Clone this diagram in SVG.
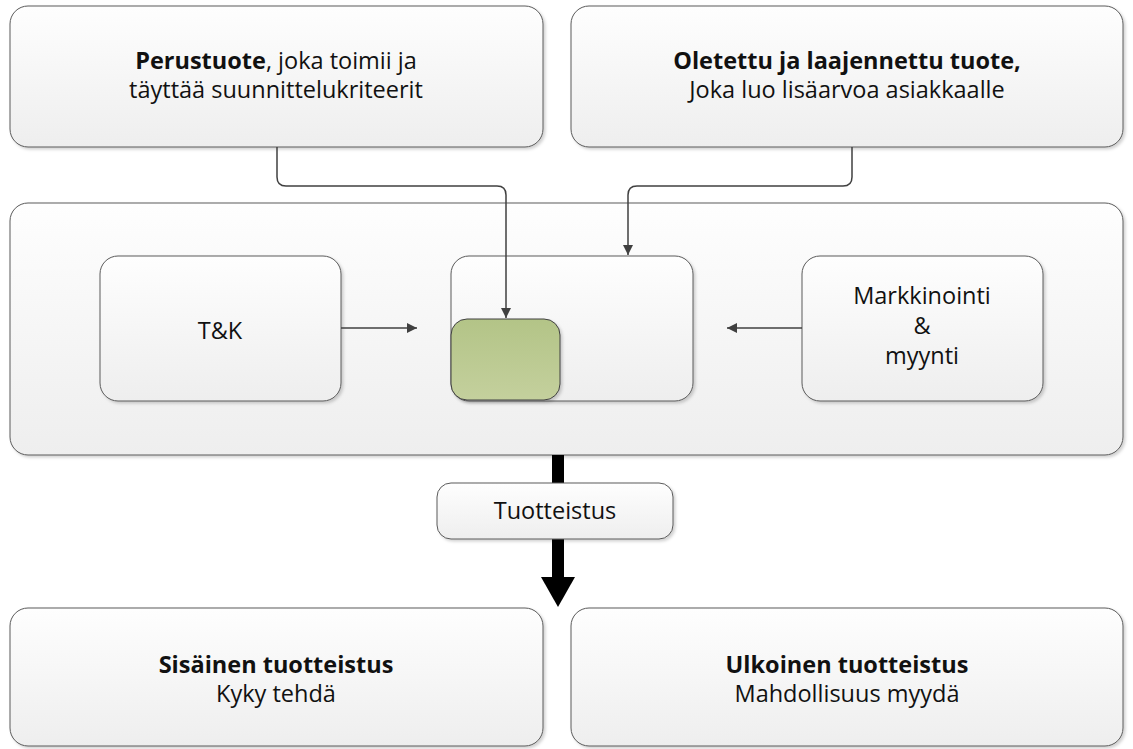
<svg xmlns="http://www.w3.org/2000/svg" width="1133" height="749" viewBox="0 0 1133 749">
  <defs>
    <linearGradient id="boxFill" x1="0" y1="0" x2="0" y2="1">
      <stop offset="0" stop-color="#fefefe"/>
      <stop offset="1" stop-color="#eeeeee"/>
    </linearGradient>
    <linearGradient id="greenFill" x1="0" y1="0" x2="0" y2="1">
      <stop offset="0" stop-color="#b3c487"/>
      <stop offset="1" stop-color="#c4d09d"/>
    </linearGradient>
    <filter id="shadow" x="-5%" y="-5%" width="110%" height="115%">
      <feDropShadow dx="2" dy="2" stdDeviation="1.5" flood-color="#000" flood-opacity="0.18"/>
    </filter>
    <marker id="arrow" viewBox="0 0 10 10" refX="10" refY="5" markerWidth="10" markerHeight="10" markerUnits="userSpaceOnUse" orient="auto">
      <path d="M0,0 L10,5 L0,10 Z" fill="#404040"/>
    </marker>
    <style>
      .box { fill: url(#boxFill); stroke: #5a5a5a; stroke-width: 1; filter: url(#shadow); }
      .green { fill: url(#greenFill); stroke: #404040; stroke-width: 1; filter: url(#shadow); }
      .conn { fill: none; stroke: #404040; stroke-width: 1.5; }
      text { font-family: "Open Sans", "Liberation Sans", sans-serif; font-size: 23.5px; fill: #111; text-anchor: middle; }
      .b { font-weight: bold; }
    </style>
  </defs>

  <!-- top nodes -->
  <g id="perustuote">
    <rect class="box" x="10" y="6" width="533" height="141" rx="18"/>
    <text x="276" y="69"><tspan class="b">Perustuote</tspan>, joka toimii ja</text>
    <text x="276" y="98">täyttää suunnittelukriteerit</text>
  </g>
  <g id="laajennettu">
    <rect class="box" x="571" y="6" width="552" height="141" rx="18"/>
    <text x="847" y="69" class="b">Oletettu ja laajennettu tuote,</text>
    <text x="847" y="98">Joka luo lisäarvoa asiakkaalle</text>
  </g>

  <!-- container -->
  <g id="container">
    <rect class="box" x="10" y="203" width="1113" height="252" rx="18"/>
  </g>
  <g id="tk">
    <rect class="box" x="100" y="256" width="241" height="145" rx="18"/>
    <text x="220" y="338.5">T&amp;K</text>
  </g>
  <g id="tuote">
    <rect class="box" x="451" y="256" width="242" height="145" rx="18"/>
  </g>
  <g id="ydin">
    <rect class="green" x="451" y="319" width="109" height="81" rx="16"/>
  </g>
  <g id="markkinointi">
    <rect class="box" x="802" y="256" width="241" height="145" rx="18"/>
    <text x="922" y="304">Markkinointi</text>
    <text x="922" y="334">&amp;</text>
    <text x="922" y="364">myynti</text>
  </g>

  <!-- bottom nodes -->
  <g id="sisainen">
    <rect class="box" x="10" y="608" width="533" height="138" rx="18"/>
    <text x="276" y="673" class="b">Sisäinen tuotteistus</text>
    <text x="276" y="702">Kyky tehdä</text>
  </g>
  <g id="ulkoinen">
    <rect class="box" x="571" y="608" width="552" height="138" rx="18"/>
    <text x="847" y="673" class="b">Ulkoinen tuotteistus</text>
    <text x="847" y="702">Mahdollisuus myydä</text>
  </g>

  <!-- connectors -->
  <g id="connectors">
    <path class="conn" d="M277,147 V177 Q277,186 286,186 H497 Q506,186 506,195 V318" marker-end="url(#arrow)"/>
    <path class="conn" d="M852,147 V177 Q852,186 843,186 H637 Q628,186 628,195 V255" marker-end="url(#arrow)"/>
    <path class="conn" d="M341,328 H417" marker-end="url(#arrow)"/>
    <path class="conn" d="M802,328 H727" marker-end="url(#arrow)"/>
    <rect x="552" y="455" width="12" height="124" fill="#000"/>
    <path d="M541,577 L575,577 L558,607 Z" fill="#000"/>
  </g>

  <g id="tuotteistus">
    <rect class="box" x="437" y="483" width="236" height="56" rx="14"/>
    <text x="555" y="518.5">Tuotteistus</text>
  </g>
</svg>
